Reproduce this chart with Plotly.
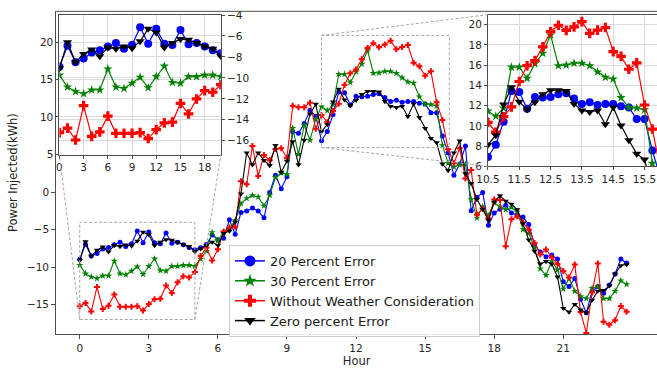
import plotly.graph_objects as go

# ---------------- data ----------------
hours = [i * 0.25 for i in range(96)]

err20 = [-8.94, -6.94, -8.51, -8.16, -7.58, -7.37, -7.01, -6.66, -7.23, -6.87, -5.16, -6.73, -5.30, -6.73, -6.87,
         -5.44, -6.80, -6.66, -7.01, -7.37, -7.66,
         -7.4, -6.98, -5.69, -6.33, -6.12, -3.66, -5.6,
         -2.7, -2.5, -2.1, -2.5, -3.4, 0.0, 2.3, 0.5, 2.1, 8.1, 7.9, 9.2, 11.0, 10.2,
         6.92, 8.13, 10.41, 13.43, 13.33, 11.68, 12.86, 12.79, 12.86, 13.11, 13.21, 12.7, 12.16, 12.32, 12.06,
         12.16, 12.16, 11.94, 11.81, 10.67, 10.67, 7.56,
         5.3, 2.29, 3.8, 6.2, -2.46, -0.65, 0.0, -4.4, -2.76, -2.24, -1.73, -2.76, -2.98, -3.3, -4.3, -7.0,
         -7.97, -8.6, -8.37, -8.9, -11.94, -12.6, -11.5, -14.3, -16.1, -13.2, -12.6, -13.5, -12.4, -10.9, -8.9, -9.45]

err30 = [-9.73, -10.87, -11.30, -11.51, -11.15, -11.15, -9.15, -10.87, -11.01, -10.51, -9.94, -10.94, -9.87, -8.87,
         -10.44, -10.51, -9.87, -9.87, -9.73, -9.73, -9.87,
         -8.9, -7.85, -5.34, -6.46, -5.26, -4.8, -3.75,
         -1.5, -0.8, -0.4, -0.6, -1.8, -0.4, 2.0, 2.6, 2.4, 8.6, 5.1, 9.0, 7.0, 9.8,
         11.46, 10.95, 11.75, 15.81, 15.81, 14.7, 16.13, 17.17, 18.98, 15.94, 16.0, 16.19, 16.19, 15.94, 15.33,
         14.79, 14.63, 12.79, 11.81, 11.75, 11.59, 6.29,
         3.9, 3.4, 3.7, 3.8, -0.94, -3.4, -1.9, -3.1, -1.4, -1.9, -2.3, -2.0, -2.6, -4.95, -5.47, -7.33,
         -10.2, -11.08, -9.23, -10.35, -12.9, -11.5, -13.2, -13.9, -14.2, -12.8, -12.6, -14.2, -14.2, -13.2, -11.8, -12.3]

no_weather = [-15.22, -14.79, -15.93, -12.65, -15.58, -15.15, -13.65, -15.29, -15.29, -15.29, -15.22, -15.79, -14.94,
              -14.29, -14.22, -12.44, -13.44, -12.01, -11.22, -11.37, -10.65,
              -8.5, -7.4, -9.1, -7.6, -5.26, -4.7, -4.6,
              1.5, 1.1, 6.2, 2.2, 5.0, 4.3, 5.8, 5.9, 4.6, 11.6, 11.4, 11.4, 12.0, 8.5,
              10.35, 9.37, 10.9, 11.87, 14.38, 15.94, 16.44, 17.8, 19.3, 19.94, 19.43, 19.78, 20.3, 19.14, 19.46,
              19.71, 17.33, 16.86, 15.59, 16.22, 12.06, 9.68,
              5.78, 3.9, 5.9, 1.86, 3.0, -3.0, -2.15, -3.5, -0.94, -1.0, -7.2, -3.6, -3.2, -4.0, -5.0, -6.77,
              -8.3, -7.63, -8.7, -9.57, -10.5, -11.38, -9.65, -16.0, -18.8, -13.4, -9.5, -17.3, -17.7, -17.1, -15.2, -15.96]

err0 = [-9.08, -6.59, -8.51, -7.73, -7.30, -7.94, -7.09, -7.23, -7.01, -7.16, -6.51, -5.30, -5.66, -7.09, -6.66,
        -6.30, -6.37, -6.66, -7.01, -7.23, -7.94,
        -7.54, -7.07, -6.64, -7.07, -5.47, -5.17, -3.96,
        -0.2, 5.3, 3.7, 5.3, 4.3, 3.6, 6.3, 2.7, 4.2, 6.8, 3.7, 7.0, 10.5, 11.8,
        8.13, 9.08, 12.1, 13.81, 12.38, 11.62, 12.32, 13.11, 13.52, 13.52, 13.43, 12.16, 11.52, 11.37, 11.52,
        10.16, 11.84, 10.03, 8.57, 7.24, 6.67, 3.8,
        2.94, 5.3, 6.9, 2.5, 1.2, -0.94, -2.24, -3.75, -1.29, -0.43, -1.16, -1.57, -2.3, -4.18, -6.34, -7.84,
        -9.57, -9.23, -9.57, -11.3, -15.5, -16.0, -14.96, -15.7, -16.1, -14.4, -13.2, -13.1, -12.5, -10.9, -9.78, -9.65]

series_names = ["20 Percent Error", "30 Percent Error", "Without Weather Consideration", "Zero percent Error"]
series_values = [err20, err30, no_weather, err0]

main_xticks = [0, 3, 6, 9, 12, 15, 18, 21]
main_yticks = [-15, -10, -5, 0]
inset1_xticks = [0, 3, 6, 9, 12, 15, 18]
inset1_right_ticks = [-4, -6, -8, -10, -12, -14, -16]
inset1_left_ticks = [5, 10, 15, 20]
inset2_xticks = [10.5, 11.5, 12.5, 13.5, 14.5, 15.5]
inset2_yticks = [6, 8, 10, 12, 14, 16, 18, 20]

# ---------------- layout geometry ----------------
W, H = 657, 368
FONT = "DejaVu Sans"
colors = ["#0000ff", "#008000", "#ff0000", "#000000"]
symbols = ["circle", "star", "cross", "triangle-down"]
main_sizes = [5, 5.5, 5, 5.5]
inset_sizes = [8, 7, 8, 8]
legend_sizes = [11, 10, 10, 10]


def px_dom_x(a, b):
    return [a / W, b / W]


def px_dom_y(top, bottom):
    return [1 - bottom / H, 1 - top / H]


main_xd = px_dom_x(45, 657)
main_yd = px_dom_y(5.5, 339)
main_xr = [-1.023, 25.07]
main_yr = [-18.93, 24.22]

in1_xd = px_dom_x(48.3, 212.7)
in1_yd = px_dom_y(9, 153.7)
in1_xr = [0, 20]
in1_yr = [-17.33, -3.97]
in1_left_r = [4.95, 23.66]

in2_xd = px_dom_x(484.8, 657)
in2_yd = px_dom_y(9, 165.7)
in2_xr = [10.5, 15.898]
in2_yr = [6.0, 20.98]

box1 = dict(x0=0, x1=5, y0=-17, y1=-4)
box2 = dict(x0=10.5, x1=16.05, y0=6.0, y1=21.0)

fig = go.Figure()

# main traces
for name, vals, c, s, ms in zip(series_names, series_values, colors, symbols, main_sizes):
    fig.add_trace(go.Scatter(x=hours, y=vals, mode="lines+markers", name=name, showlegend=False,
                             line=dict(color=c, width=1.1),
                             marker=dict(symbol=s, size=ms, color=c, line=dict(width=0)),
                             xaxis="x", yaxis="y"))

# inset 1 (index = hour*4)
idx = [h * 4 for h in hours]
for name, vals, c, s, ms in zip(series_names, series_values, colors, symbols, inset_sizes):
    fig.add_trace(go.Scatter(x=idx, y=vals, mode="lines+markers", showlegend=False,
                             line=dict(color=c, width=1.2),
                             marker=dict(symbol=s, size=ms, color=c, line=dict(width=0)),
                             xaxis="x2", yaxis="y2"))
fig.add_trace(go.Scatter(x=[None], y=[None], xaxis="x2", yaxis="y3", showlegend=False, hoverinfo="skip"))

# inset 2
for name, vals, c, s, ms in zip(series_names, series_values, colors, symbols, inset_sizes):
    fig.add_trace(go.Scatter(x=hours, y=vals, mode="lines+markers", showlegend=False,
                             line=dict(color=c, width=1.2),
                             marker=dict(symbol=s, size=ms, color=c, line=dict(width=0)),
                             xaxis="x4", yaxis="y4"))

# legend-only entries
for name, c, s, ms in zip(series_names, colors, symbols, legend_sizes):
    fig.add_trace(go.Scatter(x=[None], y=[None], mode="lines+markers", name=name,
                             line=dict(color=c, width=1.5),
                             marker=dict(symbol=s, size=ms, color=c, line=dict(width=0)),
                             xaxis="x", yaxis="y"))

axis_line = "#4d4d4d"
grid = "#dadada"
tickfont = dict(family=FONT, size=10.5, color="#262626")

fig.update_layout(
    width=W, height=H,
    margin=dict(l=0, r=0, t=0, b=0),
    paper_bgcolor="white", plot_bgcolor="white",
    font=dict(family=FONT, color="#262626"),
    showlegend=True,
    legend=dict(x=221 / W, y=1 - 247 / H, xanchor="left", yanchor="top",
                bgcolor="rgba(255,255,255,0.85)", bordercolor="#cccccc", borderwidth=1,
                font=dict(family=FONT, size=13, color="#1a1a1a"), tracegroupgap=0),
    xaxis=dict(domain=main_xd, range=main_xr, anchor="y", tickvals=main_xticks, showgrid=False,
               zeroline=False, showline=True, linecolor=axis_line, linewidth=1, ticks="outside",
               ticklen=4, tickcolor=axis_line, tickfont=tickfont,
               title=dict(text="Hour", font=dict(family=FONT, size=11.5), standoff=2)),
    yaxis=dict(domain=main_yd, range=main_yr, anchor="x", tickvals=main_yticks, showgrid=False,
               zeroline=False, showline=True, linecolor=axis_line, linewidth=1, ticks="outside",
               ticklen=4, tickcolor=axis_line, tickfont=tickfont,
               title=dict(text="Power Injected(kWh)", font=dict(family=FONT, size=11.5), standoff=6)),
    xaxis2=dict(domain=in1_xd, range=in1_xr, anchor="y2", tickvals=inset1_xticks, showgrid=True,
                gridcolor=grid, gridwidth=1, zeroline=False, showline=True, mirror=True,
                linecolor=axis_line, linewidth=1, ticks="outside", ticklen=3, tickcolor=axis_line,
                tickfont=tickfont),
    yaxis2=dict(domain=in1_yd, range=in1_yr, anchor="x2", side="right", tickvals=inset1_right_ticks,
                showgrid=True, gridcolor=grid, gridwidth=1, zeroline=False, showline=True, mirror=True,
                linecolor=axis_line, linewidth=1, ticks="outside", ticklen=3, tickcolor=axis_line,
                tickfont=tickfont),
    yaxis3=dict(range=in1_left_r, anchor="x2", overlaying="y2", side="left", tickvals=inset1_left_ticks,
                showgrid=True, gridcolor=grid, gridwidth=1, zeroline=False, showline=False,
                ticks="outside", ticklen=3, tickcolor=axis_line, tickfont=tickfont),
    xaxis4=dict(domain=in2_xd, range=in2_xr, anchor="y4", tickvals=inset2_xticks, ticktext=[str(v) for v in inset2_xticks],
                showgrid=True, gridcolor=grid, gridwidth=1, zeroline=False, showline=True, mirror=True,
                linecolor=axis_line, linewidth=1, ticks="outside", ticklen=3, tickcolor=axis_line,
                tickfont=tickfont),
    yaxis4=dict(domain=in2_yd, range=in2_yr, anchor="x4", tickvals=inset2_yticks, showgrid=True,
                gridcolor=grid, gridwidth=1, zeroline=False, showline=True, linecolor=axis_line,
                linewidth=1, ticks="outside", ticklen=3, tickcolor=axis_line, tickfont=tickfont),
)


def mx(h):
    return main_xd[0] + (h - main_xr[0]) / (main_xr[1] - main_xr[0]) * (main_xd[1] - main_xd[0])


def my(v):
    return main_yd[0] + (v - main_yr[0]) / (main_yr[1] - main_yr[0]) * (main_yd[1] - main_yd[0])


dash_line = dict(color="#a8a8a8", width=1, dash="3px,2px")
shapes = []
# top spine of main axes
shapes.append(dict(type="line", xref="paper", yref="paper", x0=main_xd[0], x1=main_xd[1],
                   y0=main_yd[1], y1=main_yd[1], line=dict(color=axis_line, width=1), layer="above"))
# zoom boxes
for b in (box1, box2):
    shapes.append(dict(type="rect", xref="x", yref="y", x0=b["x0"], x1=b["x1"], y0=b["y0"], y1=b["y1"],
                       line=dash_line, fillcolor="rgba(0,0,0,0)", layer="above"))
# connectors inset 1: bottom corners
shapes.append(dict(type="line", xref="paper", yref="paper", x0=mx(box1["x0"]), y0=my(box1["y0"]),
                   x1=in1_xd[0], y1=in1_yd[0], line=dash_line, layer="above"))
shapes.append(dict(type="line", xref="paper", yref="paper", x0=mx(box1["x1"]), y0=my(box1["y0"]),
                   x1=in1_xd[1], y1=in1_yd[0], line=dash_line, layer="above"))
# connectors inset 2: left corners
shapes.append(dict(type="line", xref="paper", yref="paper", x0=mx(box2["x0"]), y0=my(box2["y1"]),
                   x1=in2_xd[0], y1=in2_yd[1], line=dash_line, layer="above"))
shapes.append(dict(type="line", xref="paper", yref="paper", x0=mx(box2["x0"]), y0=my(box2["y0"]),
                   x1=in2_xd[0], y1=in2_yd[0], line=dash_line, layer="above"))
fig.update_layout(shapes=shapes)

fig.write_html("out.html")
